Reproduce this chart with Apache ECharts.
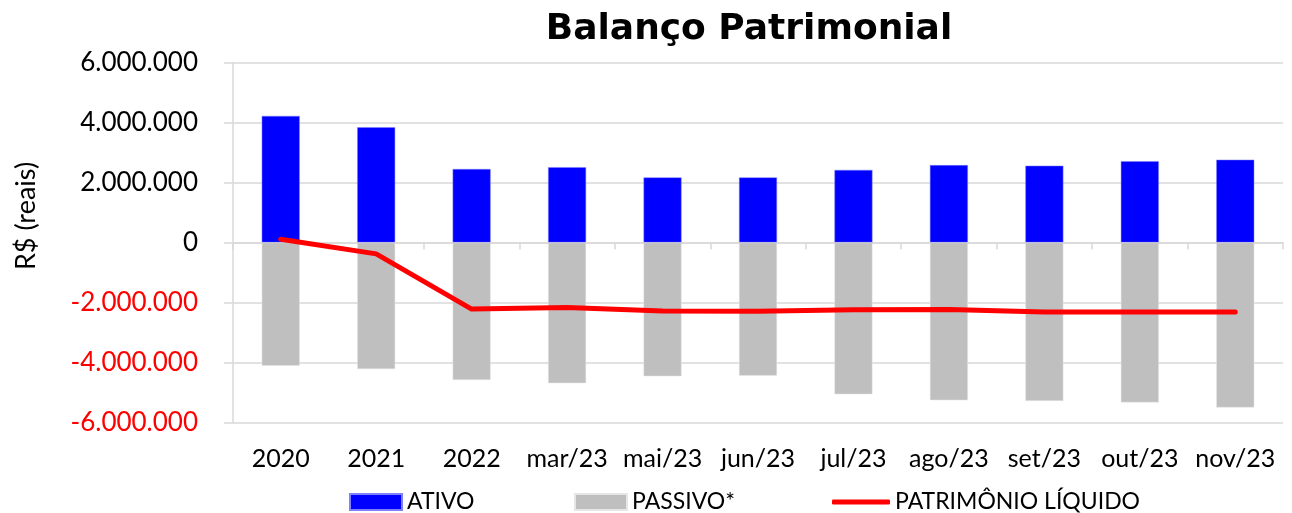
<!DOCTYPE html>
<html>
<head>
<meta charset="utf-8">
<script src="https://cdn.jsdelivr.net/npm/echarts@6/dist/echarts.min.js"></script>
<style>
  html, body { margin: 0; padding: 0; background: #fff; }
  #chart { width: 1292px; height: 513px; }
</style>
</head>
<body>
<div id="chart"></div>
<script>
// categorias do eixo x
var categorias = ["2020", "2021", "2022", "mar/23", "mai/23", "jun/23", "jul/23", "ago/23", "set/23", "out/23", "nov/23"];
// valores em reais
var ativo = [4220000, 3840000, 2450000, 2510000, 2170000, 2170000, 2420000, 2580000, 2560000, 2710000, 2760000];
var passivo = [-4110000, -4220000, -4580000, -4690000, -4460000, -4440000, -5060000, -5260000, -5280000, -5330000, -5500000];
var patrimonio = [110000, -380000, -2220000, -2170000, -2280000, -2290000, -2240000, -2230000, -2320000, -2320000, -2320000];

var fonte = "Lato, 'Open Sans', sans-serif";
var cinzaGrade = "#d9d9d9";

function formataReais(v) {
  var s = String(Math.abs(v)).replace(/\B(?=(\d{3})+(?!\d))/g, ".");
  return (v < 0 ? "-" : "") + s;
}

var legendaTexto = { fontFamily: fonte, fontSize: 23, color: "#000", lineHeight: 24 };

var chart = echarts.init(document.getElementById("chart"));
chart.setOption({
  animation: false,
  title: {
    text: "Balanço Patrimonial",
    left: 744,
    top: 7,
    textAlign: "center",
    textStyle: { fontFamily: "'DejaVu Sans', sans-serif", fontWeight: "bold", fontSize: 36, color: "#000" }
  },
  graphic: [
    {
      type: "text",
      x: 26,
      y: 216,
      rotation: Math.PI / 2,
      style: { text: "R$ (reais)", fontFamily: fonte, fontSize: 27, fill: "#000", align: "center", verticalAlign: "middle" }
    }
  ],
  legend: [
    {
      data: ["ATIVO"], left: 349, top: 490, padding: 0, itemWidth: 52, itemHeight: 16, itemGap: 0,
      icon: "rect", textStyle: legendaTexto
    },
    {
      data: ["PASSIVO*"], left: 574, top: 490, padding: 0, itemWidth: 52, itemHeight: 16, itemGap: 0,
      icon: "rect", textStyle: legendaTexto
    },
    {
      data: ["PATRIMÔNIO LÍQUIDO"], left: 832, top: 490, padding: 0, itemWidth: 58, itemHeight: 5, itemGap: 0,
      icon: "roundRect", textStyle: legendaTexto
    }
  ],
  grid: { left: 233, right: 9, top: 62.5, bottom: 90.5, outerBoundsMode: "none" },
  xAxis: [
    {
      type: "category",
      data: categorias,
      position: "bottom",
      axisLine: { show: false, onZero: false },
      axisTick: { show: false },
      axisLabel: { interval: 0, fontFamily: fonte, fontSize: 25, color: "#000", margin: 24 }
    },
    {
      type: "category",
      data: categorias,
      position: "bottom",
      axisLine: { show: true, onZero: true, lineStyle: { color: cinzaGrade, width: 1.5 } },
      axisTick: { show: true, length: 7, lineStyle: { color: cinzaGrade, width: 1.5 } },
      axisLabel: { show: false }
    }
  ],
  yAxis: {
    type: "value",
    min: -6000000,
    max: 6000000,
    interval: 2000000,
    axisLine: { show: true, lineStyle: { color: cinzaGrade, width: 1.5 } },
    axisTick: { show: true, length: 9, lineStyle: { color: cinzaGrade, width: 1.5 } },
    splitLine: { lineStyle: { color: cinzaGrade, width: 1.5 } },
    axisLabel: {
      fontFamily: fonte,
      fontSize: 26,
      margin: 35,
      formatter: formataReais,
      color: function (v) { return Number(v) < 0 ? "#ff0000" : "#000"; }
    }
  },
  series: [
    {
      name: "ATIVO",
      type: "bar",
      stack: "balanco",
      barWidth: 38,
      data: ativo,
      itemStyle: { color: "#0000ff", borderColor: "#8080ff", borderWidth: 0.5 }
    },
    {
      name: "PASSIVO*",
      type: "bar",
      stack: "balanco",
      barWidth: 38,
      data: passivo,
      itemStyle: { color: "#bfbfbf", borderColor: "#e6e6e6", borderWidth: 0.5 }
    },
    {
      name: "PATRIMÔNIO LÍQUIDO",
      type: "line",
      data: patrimonio,
      symbol: "none",
      z: 5,
      lineStyle: { color: "#ff0000", width: 5, cap: "round", join: "round" },
      itemStyle: { color: "#ff0000" }
    }
  ]
});
</script>
</body>
</html>
